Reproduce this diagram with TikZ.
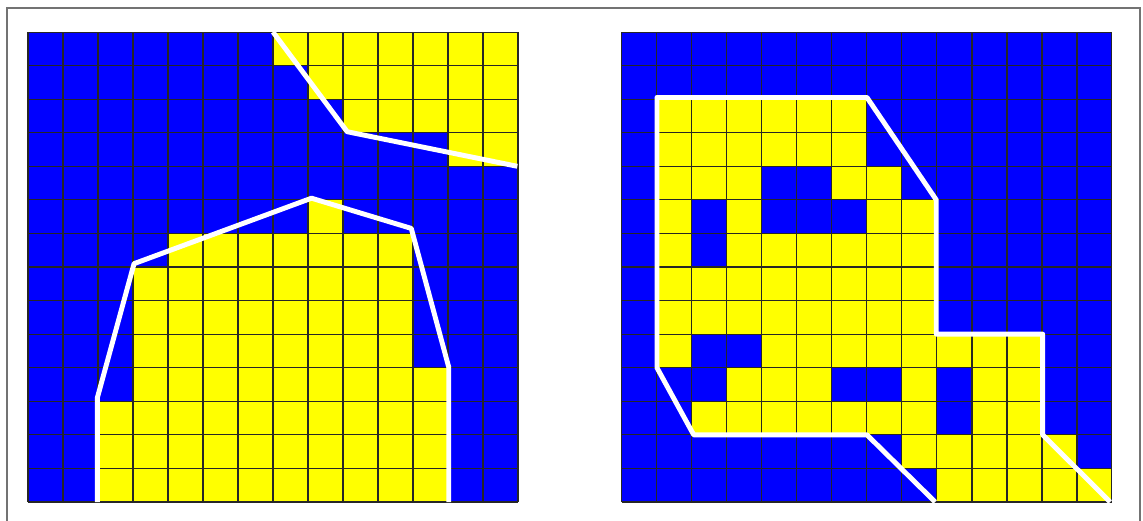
\documentclass[tikz,border=0pt]{standalone}
\usepackage{tikz}
\definecolor{cellB}{RGB}{0,0,255}
\definecolor{cellY}{RGB}{255,255,0}

\begin{document}
\begin{tikzpicture}[
    x=0.7cm, y=0.6714cm,
    Bcell/.style={fill=cellB},
    Ycell/.style={fill=cellY},
    gridln/.style={line width=0.6pt, black!85},
    bound/.style={white, line width=2.8pt, line join=round},
    frm/.style={black!55, line width=0.7pt},
]
\useasboundingbox (-0.8,-0.536) rectangle (31.857,14.954);
\draw[frm] (-0.6,-0.6) -- (-0.6,14.715) -- (31.77,14.715) -- (31.77,-0.6);

% left grid
\begin{scope}
\fill[Bcell] (0,0) rectangle (14,14);
\foreach \r/\cs in {0/{7,...,13},1/{8,...,13},2/{9,...,13},3/{12,13},5/{8},
    6/{4,...,10},7/{3,...,10},8/{3,...,10},9/{3,...,10},10/{3,...,11},
    11/{2,...,11},12/{2,...,11},13/{2,...,11}}
  \foreach \c in \cs
    \fill[Ycell] (\c,13-\r) rectangle ++(1,1);
\draw[gridln, step=1] (0,0) grid (14,14);
\draw[bound] (7,14) -- (9.12,11.03) -- (13.98,10);
\draw[bound] (1.98,0) -- (1.98,3.1) -- (3.03,7.1) -- (8.1,9.05)
    -- (10.95,8.15) -- (12.02,4.02) -- (12.02,0);
\end{scope}

% right grid
\begin{scope}[xshift=16.97*0.7cm]
\fill[Bcell] (0,0) rectangle (14,14);
\foreach \r/\cs in {2/{1,...,6},3/{1,...,6},4/{1,2,3,6,7},5/{1,3,7,8},
    6/{1,3,4,5,6,7,8},7/{1,...,8},8/{1,...,8},9/{1,4,5,6,7,8,9,10,11},
    10/{3,4,5,8,10,11},11/{2,...,8,10,11},12/{8,...,12},13/{9,...,13}}
  \foreach \c in \cs
    \fill[Ycell] (\c,13-\r) rectangle ++(1,1);
\draw[gridln, step=1] (0,0) grid (14,14);
\draw[bound] (8.95,0) -- (7,2) -- (2.05,2) -- (1,4) -- (1,12.05) -- (7,12.05)
    -- (8.98,9) -- (8.98,5) -- (12.02,5) -- (12.02,2) -- (13.95,0);
\end{scope}
\end{tikzpicture}
\end{document}
